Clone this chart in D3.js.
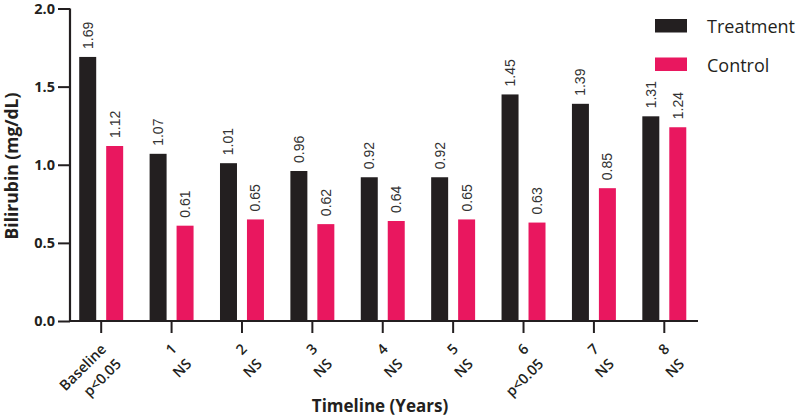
<!DOCTYPE html>
<html>
<head>
<meta charset="utf-8">
<script src="https://cdn.jsdelivr.net/npm/d3@7"></script>
<style>
  body { margin: 0; background: #fff; }
  svg { display: block; }
</style>
</head>
<body>
<svg id="chart" width="800" height="419"></svg>
<script>
const categories = ["Baseline", "1", "2", "3", "4", "5", "6", "7", "8"];
const significance = ["p<0.05", "NS", "NS", "NS", "NS", "NS", "p<0.05", "NS", "NS"];
const seriesNames = ["Treatment", "Control"];
const treatment = [1.69, 1.07, 1.01, 0.96, 0.92, 0.92, 1.45, 1.39, 1.31];
const control = [1.12, 0.61, 0.65, 0.62, 0.64, 0.65, 0.63, 0.85, 1.24];
const yTicks = [0, 0.5, 1.0, 1.5, 2.0];
const colors = ["#231f20", "#e9175f"];

const svg = d3.select("#chart");
const axisColor = "#231f20";
const boldFont = "'Open Sans', 'DejaVu Sans', sans-serif";

const x0 = d3.scaleBand().domain(categories).range([66, 699.5]).paddingInner(0).paddingOuter(0);
const x1 = d3.scaleBand().domain(seriesNames).range([0, x0.bandwidth()]).paddingInner(0.37).paddingOuter(0.49);
const y = d3.scaleLinear().domain([0, 2]).range([321, 8.5]);

const rows = categories.map((c, i) => ({cat: c, sig: significance[i], values: [treatment[i], control[i]]}));

// bars
const groups = svg.append("g").selectAll("g").data(rows).join("g")
  .attr("transform", d => `translate(${x0(d.cat)},0)`);

groups.selectAll("rect").data(d => d.values.map((v, k) => ({v, k}))).join("rect")
  .attr("x", d => x1(seriesNames[d.k]))
  .attr("width", x1.bandwidth())
  .attr("y", d => y(d.v))
  .attr("height", d => y(0) - y(d.v))
  .attr("fill", d => colors[d.k]);

// value labels
groups.selectAll("text.val").data(d => d.values.map((v, k) => ({v, k}))).join("text")
  .attr("class", "val")
  .attr("transform", d => `translate(${x1(seriesNames[d.k]) + x1.bandwidth() / 2 + 5},${y(d.v) - 8}) rotate(-90)`)
  .attr("text-anchor", "start")
  .attr("font-family", "'Liberation Sans', Arial, sans-serif")
  .attr("font-size", "14px")
  .attr("fill", "#333")
  .text(d => d.v.toFixed(2));

// y axis
const yAxis = svg.append("g").attr("transform", "translate(70,0)")
  .call(d3.axisLeft(y).tickValues(yTicks).tickFormat(d3.format(".1f")).tickSize(12).tickPadding(3));
yAxis.select(".domain").attr("stroke", axisColor).attr("stroke-width", 2.2).attr("d", `M0,${y(2)}V${y(0) + 1}`);
yAxis.selectAll(".tick line").attr("stroke", axisColor).attr("stroke-width", 2);
yAxis.selectAll(".tick text").attr("font-family", boldFont).attr("font-weight", "bold")
  .attr("font-size", "14.5px").attr("fill", axisColor);

// x axis
const xAxis = svg.append("g").attr("transform", `translate(0,${y(0)})`)
  .call(d3.axisBottom(x0).tickSize(12).tickFormat(""));
xAxis.select(".domain").attr("stroke", axisColor).attr("stroke-width", 2.2).attr("d", "M69,0H698");
xAxis.selectAll(".tick line").attr("stroke", axisColor).attr("stroke-width", 2);
xAxis.selectAll(".tick text").remove();

// x tick labels (two lines, rotated)
const xl = svg.append("g").selectAll("text").data(rows).join("text")
  .attr("transform", d => `translate(${x0(d.cat) + x0.bandwidth() / 2 + 6},${350}) rotate(-45)`)
  .attr("text-anchor", "end")
  .attr("font-family", boldFont)
  .attr("font-weight", 600)
  .attr("font-size", "14.5px")
  .attr("fill", axisColor);
xl.append("tspan").attr("x", 0).attr("dy", 0).text(d => d.cat);
xl.append("tspan").attr("x", 0).attr("dy", "1.45em").text(d => d.sig);

// axis titles
svg.append("text")
  .attr("transform", "translate(18,166) rotate(-90)")
  .attr("text-anchor", "middle")
  .attr("font-family", boldFont).attr("font-weight", "bold").attr("font-size", "17.5px")
  .attr("fill", axisColor)
  .text("Bilirubin (mg/dL)");

svg.append("text")
  .attr("x", 380).attr("y", 412)
  .attr("text-anchor", "middle")
  .attr("font-family", boldFont).attr("font-weight", "bold").attr("font-size", "17px")
  .attr("fill", axisColor)
  .text("Timeline (Years)");

// legend
const legend = svg.append("g").selectAll("g").data(seriesNames).join("g")
  .attr("transform", (d, i) => `translate(655,${19 + i * 38.5})`);
legend.append("rect").attr("width", 32).attr("height", 13.5).attr("fill", (d, i) => colors[i]);
legend.append("text").attr("x", 52).attr("y", 14)
  .attr("font-family", "'Open Sans', sans-serif").attr("font-size", "18px")
  .attr("fill", axisColor)
  .text(d => d);
</script>
</body>
</html>
